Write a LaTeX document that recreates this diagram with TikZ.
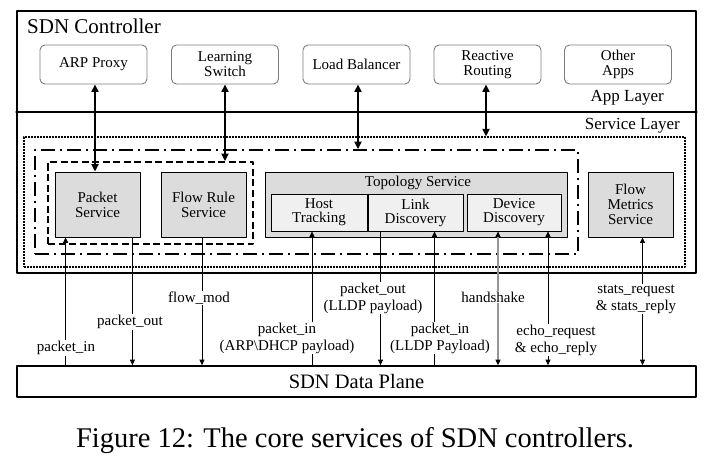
\documentclass[tikz,border=0pt]{standalone}
\usepackage{fontspec}
\setmainfont{Liberation Serif}
\usepackage{tikz}
\usetikzlibrary{arrows.meta, calc, positioning}
\definecolor{servicegray}{RGB}{220,220,220}
\definecolor{subgray}{RGB}{240,240,240}
\definecolor{appborder}{RGB}{125,125,125}
\definecolor{handgray}{RGB}{150,150,150}

\begin{document}
\begin{tikzpicture}[x=1pt, y=-1pt, line cap=round, line join=round, >={Triangle[length=5.5pt,width=5pt]},
    appbox/.style={draw=appborder, line width=0.9pt, rounded corners=5pt, minimum width=107pt, minimum height=39pt, inner sep=0pt, align=center, font=\fontsize{15}{15}\selectfont},
    svcbox/.style={draw, line width=0.8pt, fill=servicegray, minimum width=85pt, minimum height=65pt, inner sep=0pt, align=center, font=\fontsize{15}{15}\selectfont},
    subbox/.style={draw, line width=0.8pt, fill=subgray, minimum width=95pt, minimum height=37pt, inner sep=0pt, align=center, font=\fontsize{15}{14}\selectfont},
    frame/.style={draw, line width=1.7pt, line cap=butt, inner sep=0pt},
    msg/.style={fill=white, inner sep=1pt, align=center, font=\fontsize{15}{17}\selectfont},
    apilink/.style={{Triangle[length=7.5pt,width=7pt]}-{Triangle[length=7.5pt,width=7pt]}, line width=2pt, line cap=butt},
    msglink/.style={line width=0.75pt, line cap=butt}]
    \useasboundingbox (0,0) rectangle (707,468);

    % controller frame and layers
    \node[frame, minimum width=679pt, minimum height=262pt] (ctrl) at (356.5,142) {};
    \coordinate (appfloor) at (0,112);
    \draw[line width=1.7pt] (ctrl.west |- appfloor) -- (ctrl.east |- appfloor);
    \node[anchor=base west, inner sep=0pt, font=\fontsize{21}{21}\selectfont] (ctrltitle) at (27,34) {SDN Controller};
    \node[anchor=base east, inner sep=0pt, font=\fontsize{17}{17}\selectfont] (applayer) at (664,102) {App Layer};
    \node[anchor=base east, inner sep=0pt, font=\fontsize{17}{17}\selectfont] (svctitle) at (680,130) {Service Layer};

    % apps
    \node[appbox] (arp) at (93.5,64.5) {ARP Proxy};
    \node[appbox] (learn) at (225,64.5) {Learning\\Switch};
    \node[appbox] (load) at (356.5,64.5) {Load Balancer};
    \node[appbox] (react) at (487.5,64.5) {Reactive\\Routing};
    \node[appbox] (other) at (618,64.5) {Other\\Apps};

    % service layer groups
    \node[frame, line width=1.2pt, dash pattern=on 1.6pt off 1.4pt, minimum width=661pt, minimum height=130pt] (svclayer) at (354.5,202) {};
    \node[frame, dash pattern=on 14pt off 5pt on 2pt off 5pt, minimum width=543pt, minimum height=104pt] (core) at (306.5,202) {};
    \node[frame, dash pattern=on 7pt off 3.5pt, minimum width=205pt, minimum height=82pt] (pktgrp) at (150.5,203) {};

    % services
    \node[svcbox] (pkt) at (97.5,204.5) {Packet\\Service};
    \node[svcbox] (flowrule) at (203.5,204.5) {Flow Rule\\Service};
    \node[svcbox, minimum width=302pt] (topo) at (416,204.5) {};
    \node[inner sep=0pt, font=\fontsize{15}{15}\selectfont] (topotitle) at (418,182.5) {Topology Service};
    \node[subbox, minimum width=96pt] (host) at (319,212.5) {Host\\Tracking};
    \node[subbox] (link) at (415.5,212.5) {Link\\Discovery};
    \node[subbox, minimum width=94pt] (device) at (514,212.5) {Device\\Discovery};
    \node[svcbox] (metrics) at (630.5,204.5) {Flow\\Metrics\\Service};

    % data plane
    \node[frame, minimum width=679pt, minimum height=31pt, font=\fontsize{20.5}{20.5}\selectfont] (dataplane) at (356.5,381.5) {SDN Data Plane};

    % app to service links
    \draw[apilink] ([xshift=1.5pt]arp.south) -- ([xshift=1.5pt]arp.south |- pkt.north);
    \draw[apilink] (learn.south) -- (learn.south |- pktgrp.north);
    \draw[apilink] ([xshift=1.5pt]load.south) -- ([xshift=1.5pt]load.south |- core.north);
    \draw[apilink] ([xshift=-1.5pt]react.south) -- ([xshift=-1.5pt]react.south |- svclayer.north);

    % service to data plane links
    \coordinate (pinA) at ([xshift=11pt]pkt.south west);
    \coordinate (poutA) at ([xshift=-8pt]pkt.south east);
    \coordinate (fmod) at ([xshift=-1.5pt]flowrule.south);
    \coordinate (pinB) at ([xshift=-7pt]host.south);
    \coordinate (poutB) at ([xshift=-35pt]link.south);
    \coordinate (pinC) at ([xshift=19pt]link.south);
    \coordinate (hand) at ([xshift=-16pt]device.south);
    \coordinate (echo) at ([xshift=34pt]device.south);
    \coordinate (stats) at ([xshift=12pt]metrics.south);

    \draw[msglink, ->] (pinA |- dataplane.north) -- (pinA);
    \draw[msglink, ->] (poutA) -- (poutA |- dataplane.north);
    \draw[msglink, ->] (fmod) -- (fmod |- dataplane.north);
    \draw[msglink, ->] (pinB |- dataplane.north) -- (pinB);
    \draw[msglink, ->] (poutB) -- (poutB |- dataplane.north);
    \draw[msglink, ->] (pinC |- dataplane.north) -- (pinC);
    \draw[msglink, handgray, line width=1.1pt, {Triangle[length=5.5pt,width=5pt,black]}-{Triangle[length=5.5pt,width=5pt,black]}] (hand) -- (hand |- dataplane.north);
    \draw[msglink, <->] (echo) -- (echo |- dataplane.north);
    \draw[msglink, <->] (stats) -- (stats |- dataplane.north);

    % message labels
    \node[msg] (lpinA) at (66,348) {packet\_in};
    \node[msg] (lpoutA) at (130,322) {packet\_out};
    \node[msg] (lfmod) at (199,298) {flow\_mod};
    \node[msg] (lpinB) at (287,338) {packet\_in\\(ARP\textbackslash DHCP payload)};
    \node[msg] (lpoutB) at (373,298) {packet\_out\\(LLDP payload)};
    \node[msg] (lpinC) at (440,338) {packet\_in\\(LLDP Payload)};
    \node[msg] (lhand) at (493,297) {handshake};
    \node[msg] (lecho) at (556,340) {echo\_request\\\& echo\_reply};
    \node[msg] (lstats) at (636,299) {stats\_request\\\& stats\_reply};

    % caption
    \node[font=\fontsize{28.5}{30}\selectfont] (caption) at (355,441) {Figure 12: The core services of SDN controllers.};
\end{tikzpicture}
\end{document}
